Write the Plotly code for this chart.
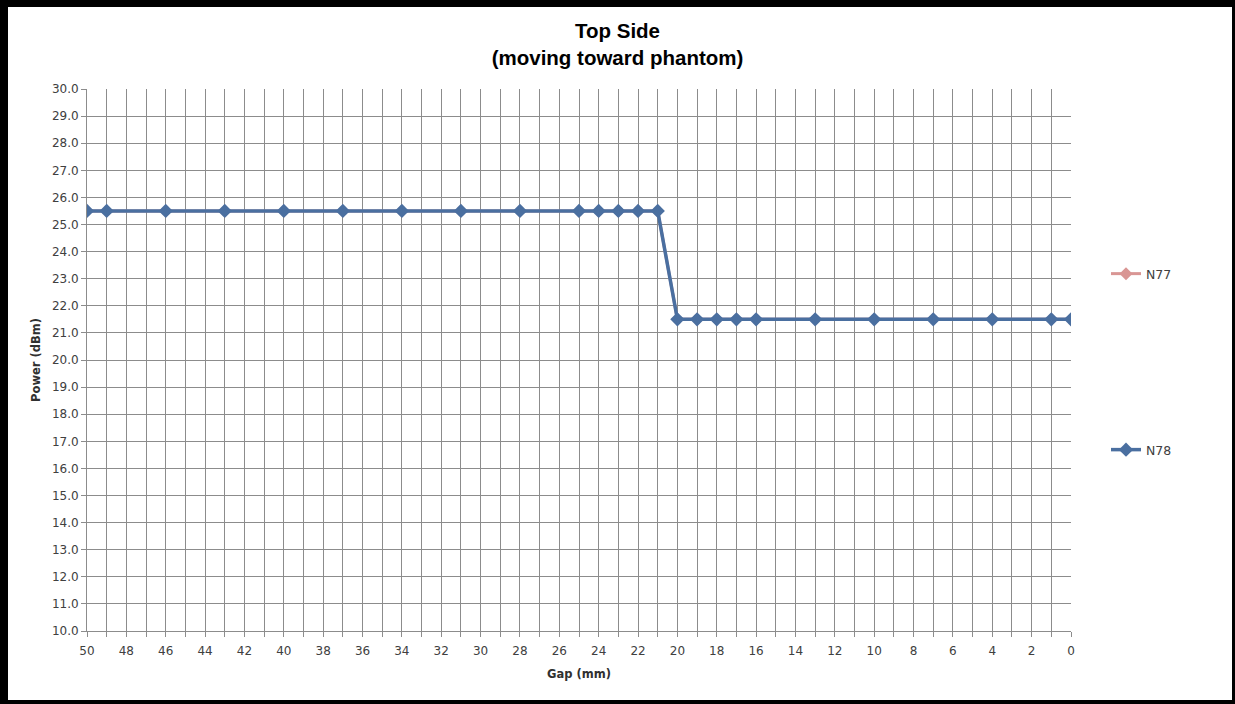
import plotly.graph_objects as go

gap_mm = [50, 49, 46, 43, 40, 37, 34, 31, 28, 25, 24, 23, 22, 21,
          20, 19, 18, 17, 16, 13, 10, 7, 4, 1, 0]
n78_dbm = [25.5] * 14 + [21.5] * 11
n77_dbm = [25.5] * 14 + [21.5] * 11

W, H = 1235, 704
L, R, T, B = 87, 1071, 89, 631
pw, ph = R - L, B - T

def px(x):
    return (x - L) / pw

def py(y):
    return (B - y) / ph

fig = go.Figure()
fig.add_trace(go.Scatter(
    x=gap_mm, y=n77_dbm, name="N77", mode="lines+markers",
    line=dict(color="#D99694", width=3),
    marker=dict(symbol="diamond", size=10, color="#D99694"),
    legend="legend",
))
fig.add_trace(go.Scatter(
    x=gap_mm, y=n78_dbm, name="N78", mode="lines+markers",
    line=dict(color="#4A6FA0", width=3.5),
    marker=dict(symbol="diamond", size=11, color="#4A6FA0"),
    legend="legend2",
))

FAM = "DejaVu Sans, Verdana, sans-serif"
axis_font = dict(family=FAM, size=12, color="#404040")
title_font = dict(family=FAM, size=11.5, color="#303030")
grid_col = "#8C8C8C"

fig.update_layout(
    width=W, height=H,
    margin=dict(l=L, r=W - R, t=T, b=H - B),
    paper_bgcolor="white", plot_bgcolor="white",
    title=dict(
        text="Top Side<br>(moving toward phantom)",
        x=0.5, xref="container", xanchor="center",
        y=1 - 38 / H, yref="container", yanchor="top",
        font=dict(family="Liberation Sans, Arial, sans-serif", size=20.5, color="#000000", weight="bold"),
    ),
    xaxis=dict(
        range=[50, 0], dtick=2, tick0=0, showgrid=True, gridcolor=grid_col, gridwidth=1,
        minor=dict(dtick=1, showgrid=True, gridcolor=grid_col, gridwidth=1,
                   ticks="outside", ticklen=5, tickcolor=grid_col),
        ticks="outside", ticklen=5, tickcolor=grid_col,
        showline=True, linecolor=grid_col, linewidth=1,
        zeroline=False, tickfont=axis_font, ticklabelstandoff=4,
        title=dict(text="<b>Gap (mm)</b>", standoff=12, font=title_font),
    ),
    yaxis=dict(
        range=[10, 30], dtick=1, tickformat=".1f", showgrid=True, gridcolor=grid_col, gridwidth=1,
        ticks="outside", ticklen=5, tickcolor=grid_col,
        showline=True, linecolor=grid_col, linewidth=1,
        zeroline=False, tickfont=axis_font,
        title=dict(text="<b>Power (dBm)</b>", standoff=8, font=title_font),
    ),
    legend=dict(x=px(1106), y=py(274), xanchor="left", yanchor="middle",
                font=dict(family=FAM, size=12.5, color="#404040"),
                bgcolor="rgba(0,0,0,0)", itemwidth=30),
    legend2=dict(x=px(1106), y=py(450), xanchor="left", yanchor="middle",
                 font=dict(family=FAM, size=12.5, color="#404040"),
                 bgcolor="rgba(0,0,0,0)", itemwidth=30),
    showlegend=True,
)

# black frame around the whole chart
frame = [
    (0, 0, 8, H),        # left
    (0, 0, W, 7),        # top
    (W - 3, 0, W, H),    # right
    (0, H - 4, W, H),    # bottom
]
for x0, y0, x1, y1 in frame:
    fig.add_shape(type="rect", xref="paper", yref="paper",
                  x0=px(x0), x1=px(x1), y0=py(y1), y1=py(y0),
                  fillcolor="black", line=dict(width=0), layer="above")

fig.write_html("out.html", config={"displayModeBar": False},
               post_script="document.body.style.margin='0';document.body.style.overflow='hidden';")
